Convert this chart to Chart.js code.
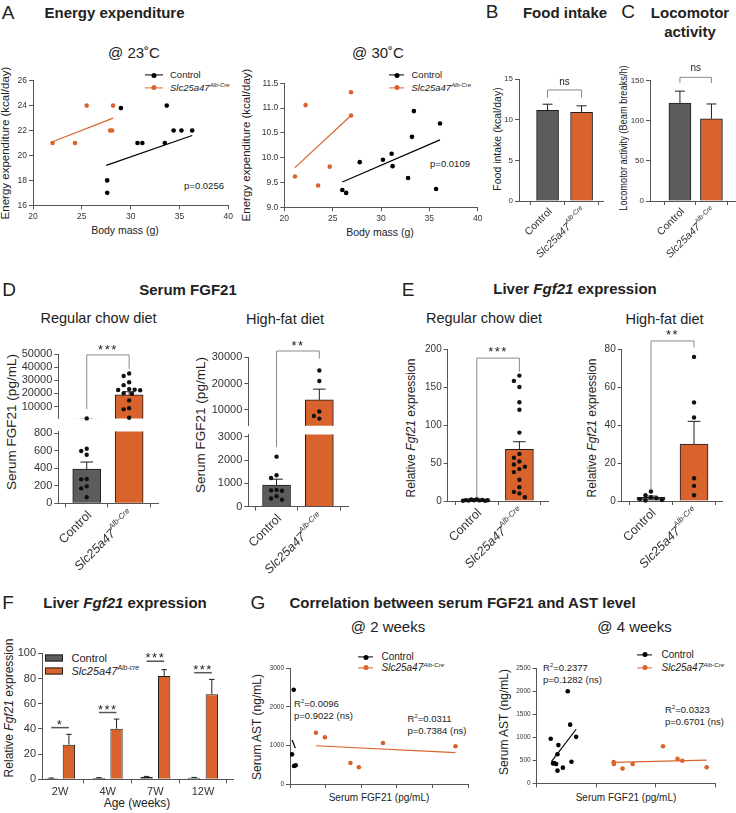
<!DOCTYPE html>
<html lang="en">
<head>
<meta charset="UTF-8">
<title>Slc25a47 liver knockout – FGF21 figure</title>
<script src="https://cdn.jsdelivr.net/npm/chart.js"></script>
<style>
  body { margin: 0; background: #fff; font-family: "Liberation Sans", Arial, sans-serif; color: #222; }
  #fig { position: relative; width: 736px; height: 813px; overflow: hidden; background: #fff; }
  #fig canvas { position: absolute; }
  .t  { position: absolute; white-space: nowrap; line-height: 1; transform: translate(-50%, -50%); }
  .l  { position: absolute; white-space: nowrap; line-height: 1; transform: translateY(-50%); }
  .yt { position: absolute; white-space: nowrap; line-height: 1; transform: translate(-50%, -50%) rotate(-90deg); }
  .yt.cond { transform: translate(-50%, -50%) rotate(-90deg) scaleX(0.88); }
  .letter { font-size: 19px; }
  .head { font-size: 15px; font-weight: bold; }
  .sub  { font-size: 15px; }
  .sub2 { font-size: 14.5px; }
  .ax   { font-size: 11.5px; }
  .ax2  { font-size: 10.5px; }
  .axs  { font-size: 10.5px; }
  .axl  { font-size: 13.5px; }
  .axm  { font-size: 12px; }
  .axg  { font-size: 10px; }
  .lg   { font-size: 9.5px; }
  .lgF  { font-size: 11px; }
  .lgG  { font-size: 10px; }
  .pv   { font-size: 9.5px; }
  sup { font-size: 62%; vertical-align: baseline; position: relative; top: -0.6em; line-height: 0; }
  .lm { position: absolute; height: 1.2px; transform: translateY(-50%); }
  .lm::after { content: ''; position: absolute; left: 50%; top: 50%; width: 5px; height: 5px;
               border-radius: 50%; background: inherit; transform: translate(-50%, -50%); }
  .box { position: absolute; width: 16px; height: 5px; border: 1px solid #222; transform: translateY(-50%); }
</style>
</head>
<body>
<div id="fig">
  <!-- A -->
  <div class="t letter" style="left:8px;top:11.5px">A</div>
  <div class="t head" style="left:114.5px;top:11.5px">Energy expenditure</div>
  <div class="t sub" style="left:134px;top:52px">@ 23˚C</div>
  <div class="t sub" style="left:378px;top:52px">@ 30˚C</div>
  <div class="yt ax" style="left:6px;top:143px">Energy expenditure (kcal/day)</div>
  <div class="yt ax" style="left:247px;top:145px">Energy expenditure (kcal/day)</div>
  <div class="t ax2" style="left:125px;top:230px">Body mass (g)</div>
  <div class="t ax2" style="left:380px;top:232px">Body mass (g)</div>
  <span class="lm" style="left:145px;top:75px;width:18px;background:#000"></span>
  <div class="l lg" style="left:170px;top:75px">Control</div>
  <span class="lm" style="left:145px;top:87.5px;width:18px;background:#d9632c"></span>
  <div class="l lg" style="left:170px;top:87.5px"><i>Slc25a47</i><sup><i>Alb-Cre</i></sup></div>
  <span class="lm" style="left:389px;top:75px;width:15px;background:#000"></span>
  <div class="l lg" style="left:411.5px;top:75px">Control</div>
  <span class="lm" style="left:389px;top:87.5px;width:15px;background:#d9632c"></span>
  <div class="l lg" style="left:411.5px;top:87.5px"><i>Slc25a47</i><sup><i>Alb-Cre</i></sup></div>
  <div class="t pv" style="left:204px;top:186px">p=0.0256</div>
  <div class="t pv" style="left:450px;top:164px">p=0.0109</div>

  <!-- B, C -->
  <div class="t letter" style="left:492px;top:11px">B</div>
  <div class="t head" style="left:565px;top:12px">Food intake</div>
  <div class="t letter" style="left:628px;top:11px">C</div>
  <div class="t head" style="left:690px;top:12px">Locomotor</div>
  <div class="t head" style="left:690px;top:31px">activity</div>
  <div class="yt axs" style="left:497px;top:139px">Food intake (kcal/day)</div>
  <div class="yt axs cond" style="left:622.5px;top:138px">Locomotor activity (Beam breaks/h)</div>

  <!-- D -->
  <div class="t letter" style="left:9px;top:289px">D</div>
  <div class="t head" style="left:188px;top:289px">Serum FGF21</div>
  <div class="t sub2" style="left:98.5px;top:318px">Regular chow diet</div>
  <div class="t sub2" style="left:285px;top:319px">High-fat diet</div>
  <div class="yt axl" style="left:12px;top:422px">Serum FGF21 (pg/mL)</div>
  <div class="yt axl" style="left:201px;top:425px">Serum FGF21 (pg/mL)</div>

  <!-- E -->
  <div class="t letter" style="left:408px;top:289px">E</div>
  <div class="t head" style="left:575px;top:288px">Liver <i>Fgf21</i> expression</div>
  <div class="t sub2" style="left:484px;top:318px">Regular chow diet</div>
  <div class="t sub2" style="left:664.5px;top:319px">High-fat diet</div>
  <div class="yt axm" style="left:410.5px;top:428px">Relative <i>Fgf21</i> expression</div>
  <div class="yt axm" style="left:592px;top:428px">Relative <i>Fgf21</i> expression</div>

  <!-- F -->
  <div class="t letter" style="left:8px;top:601.5px">F</div>
  <div class="t head" style="left:125px;top:601.5px">Liver <i>Fgf21</i> expression</div>
  <div class="yt axm" style="left:9px;top:708px">Relative <i>Fgf21</i> expression</div>
  <div class="t axm" style="left:137px;top:803px">Age (weeks)</div>
  <span class="box" style="left:45px;top:657.5px;background:#5c5c5c"></span>
  <div class="l lgF" style="left:71.5px;top:657.5px">Control</div>
  <span class="box" style="left:45px;top:670.5px;background:#d9632c"></span>
  <div class="l lgF" style="left:71.5px;top:670.5px"><i>Slc25a47</i><sup><i>Alb-cre</i></sup></div>

  <!-- G -->
  <div class="t letter" style="left:258px;top:601.5px">G</div>
  <div class="t head" style="left:462.5px;top:602px">Correlation between serum FGF21 and AST level</div>
  <div class="t sub" style="left:388px;top:626px">@ 2 weeks</div>
  <div class="t sub" style="left:634.5px;top:626px">@ 4 weeks</div>
  <div class="yt axm" style="left:257px;top:727px">Serum AST (ng/mL)</div>
  <div class="yt axm" style="left:504px;top:722px">Serum AST (ng/mL)</div>
  <div class="t axg" style="left:379px;top:798px">Serum FGF21 (pg/mL)</div>
  <div class="t axg" style="left:626px;top:798px">Serum FGF21 (pg/mL)</div>
  <span class="lm" style="left:358px;top:657px;width:15px;background:#000"></span>
  <div class="l lgG" style="left:381.5px;top:657px">Control</div>
  <span class="lm" style="left:358px;top:667.5px;width:15px;background:#d9632c"></span>
  <div class="l lgG" style="left:381.5px;top:667.5px"><i>Slc25a47</i><sup><i>Alb-Cre</i></sup></div>
  <span class="lm" style="left:637px;top:654.5px;width:15px;background:#000"></span>
  <div class="l lgG" style="left:661.5px;top:654.5px">Control</div>
  <span class="lm" style="left:637px;top:667.5px;width:15px;background:#d9632c"></span>
  <div class="l lgG" style="left:661.5px;top:667.5px"><i>Slc25a47</i><sup><i>Alb-Cre</i></sup></div>
  <div class="l pv" style="left:294px;top:704px">R<sup>2</sup>=0.0096</div>
  <div class="l pv" style="left:294px;top:716px">p=0.9022 (ns)</div>
  <div class="l pv" style="left:407.5px;top:718.5px">R<sup>2</sup>=0.0311</div>
  <div class="l pv" style="left:407.5px;top:730.5px">p=0.7384 (ns)</div>
  <div class="l pv" style="left:543px;top:668px">R<sup>2</sup>=0.2377</div>
  <div class="l pv" style="left:543px;top:680px">p=0.1282 (ns)</div>
  <div class="l pv" style="left:665px;top:710px">R<sup>2</sup>=0.0323</div>
  <div class="l pv" style="left:665px;top:722px">p=0.6701 (ns)</div>
</div>

<script>
  const ORANGE = '#d9632c';
  const GREY = '#5c5c5c';
  const AXIS = '#555';
  const INK = '#333';
  const FONT = '"Liberation Sans", Arial, sans-serif';

  // ---- A: energy expenditure vs body mass ----
  const massTicks = [20, 25, 30, 35, 40];
  const ee23Ticks = [16, 18, 20, 22, 24, 26];
  const ee30Ticks = [9.0, 9.5, 10.0, 10.5, 11.0, 11.5];
  const ctl23Mass = [27.6, 27.6, 29.0, 30.7, 31.2, 33.5, 33.7, 34.4, 35.2, 36.3];
  const ctl23EE = [18, 17, 23.8, 21, 21, 21, 24, 22, 22, 22];
  const ko23Mass = [22.0, 24.3, 25.5, 27.9, 28.1, 28.2];
  const ko23EE = [21, 21, 24, 22, 22, 24];
  const ctl23Fit = [[27.5, 19.2], [36.3, 21.6]];
  const ko23Fit = [[22.0, 21.1], [28.2, 23.0]];
  const ctl30Mass = [26.0, 26.4, 27.8, 30.2, 31.1, 31.2, 32.8, 33.2, 33.4, 35.7, 36.1];
  const ctl30EE = [9.35, 9.29, 9.91, 9.96, 10.08, 9.83, 9.59, 10.42, 10.94, 9.37, 10.69];
  const ko30Mass = [21.1, 22.2, 23.5, 24.7, 26.9, 26.9];
  const ko30EE = [9.62, 11.06, 9.44, 9.82, 11.32, 10.85];
  const ctl30Fit = [[26.0, 9.51], [36.1, 10.36]];
  const ko30Fit = [[21.1, 9.8], [26.9, 10.85]];

  // ---- B, C ----
  const groups = ['Control', 'Slc25a47 Alb-Cre'];
  const foodMean = [11.15, 10.9];
  const foodSem = [0.75, 0.8];
  const foodTicks = [0, 5, 10, 15];
  const locoMean = [122, 102.5];
  const locoSem = [15, 18.5];
  const locoTicks = [0, 50, 100, 150];

  // ---- D: serum FGF21 (broken axis) ----
  const fgfChowMean = [390, 19000];
  const fgfChowSem = [82, 2300];
  const fgfChowCtl = [1000, 624, 598, 555, 278, 274, 194, 171, 69];
  const fgfChowKo = [35200, 33300, 28500, 26300, 23300, 22900, 22600, 22400, 20200, 19700, 14700, 8800, 7900, 1500];
  const fgfChowTopTicks = [10000, 20000, 30000, 40000, 50000];
  const fgfChowLowTicks = [0, 200, 400, 600, 800];
  const fgfHfdMean = [930, 13800];
  const fgfHfdSem = [250, 4100];
  const fgfHfdCtl = [2150, 1350, 1230, 720, 700, 680, 450, 350, 300];
  const fgfHfdKo = [25000, 21000, 9400, 7700, 6700];
  const fgfHfdTopTicks = [10000, 20000, 30000];
  const fgfHfdLowTicks = [0, 1000, 2000, 3000];

  // ---- E: liver Fgf21 ----
  const liverChowMean = [1.1, 68];
  const liverChowSem = [0.25, 10];
  const liverChowCtl = [2.5, 2, 1.5, 1.2, 1, 1, 0.8, 0.6, 0.4, 0.3];
  const liverChowKo = [165, 158, 150, 130, 120, 90, 62, 57, 52, 48, 45, 42, 38, 28, 18, 12, 10, 5];
  const liverChowTicks = [0, 50, 100, 150, 200];
  const liverHfdMean = [1.9, 30];
  const liverHfdSem = [0.7, 12];
  const liverHfdCtl = [5, 3, 2, 1.5, 1, 0.5, 0.3];
  const liverHfdKo = [76, 52, 44, 12, 8, 3];
  const liverHfdTicks = [0, 20, 40, 60, 80];

  // ---- F: liver Fgf21 by age ----
  const weeks = ['2W', '4W', '7W', '12W'];
  const ageCtlMean = [0.8, 1.0, 1.8, 1.2];
  const ageCtlSem = [0.2, 0.3, 0.5, 0.3];
  const ageKoMean = [27.5, 40.2, 82, 67.5];
  const ageKoSem = [8.2, 7.6, 5, 11.8];
  const ageSigY = [41, 53, 93.7, 84.6];
  const ageSigText = ['*', '***', '***', '***'];
  const ageTicks = [0, 20, 40, 60, 80, 100];

  // ---- G: FGF21 vs AST ----
  const g2CtlFgf = [280, 520, 565, 800];
  const g2CtlAst = [769, 2443, 466, 484];
  const g2KoFgf = [3630, 4900, 8470, 9650, 13040, 23200];
  const g2KoAst = [1329, 1210, 544, 433, 1062, 977];
  const g2CtlFit = [[300, 1140], [750, 925]];
  const g2KoFit = [[3630, 992], [23200, 811]];
  const g2FgfTicks = [0, 5000, 10000, 15000, 20000, 25000];
  const g2AstTicks = [0, 1000, 2000, 3000];
  const g4CtlFgf = [4720, 10450, 7300, 11250, 13270, 6990, 5500, 5870, 6540, 7000, 8800, 11700];
  const g4CtlAst = [970, 2000, 830, 1275, 1010, 630, 430, 440, 420, 275, 340, 470];
  const g4KoFgf = [25900, 26000, 28900, 32300, 42500, 47400, 49000, 57200];
  const g4KoAst = [460, 420, 320, 420, 805, 530, 490, 350];
  const g4CtlFit = [[4940, 470], [13270, 1175]];
  const g4KoFit = [[25900, 455], [57200, 505]];
  const g4FgfTicks = [0, 20000, 40000, 60000];
  const g4AstTicks = [0, 500, 1000, 1500, 2000, 2500];

  const groupLabels = [
    [{ t: 'Control' }],
    [{ t: 'Slc25a47', it: true }, { t: 'Alb-Cre', it: true, sup: true }]
  ];

  Chart.defaults.font.family = FONT;
  Chart.defaults.color = INK;

  const fig = document.getElementById('fig');

  // spread dots sideways (pixel space); stay within +-maxOff, overlap when crowded
  function swarm(ys, gap, maxOff) {
    const placed = [];
    const cands = [0];
    for (let s = gap / 2; s <= maxOff; s += gap / 2) cands.push(-s, s);
    const order = cands.filter((c, i) => i === 0 || Math.abs(c) % gap < 0.01).concat(cands.filter(c => Math.abs(c) % gap >= 0.01));
    return ys.map(y => {
      let best = 0, bestD = -1;
      for (const off of order) {
        const d = placed.reduce((m, p) => Math.min(m, Math.hypot(p[0] - off, p[1] - y)), Infinity);
        if (d >= gap) { best = off; bestD = d; break; }
        if (d > bestD) { best = off; bestD = d; }
      }
      placed.push([best, y]);
      return best;
    });
  }

  function drawRich(ctx, parts, size) {
    const fontOf = p => (p.it ? 'italic ' : '') + (p.sup ? size * 0.62 : size) + 'px ' + FONT;
    let w = 0;
    parts.forEach(p => { ctx.font = fontOf(p); w += ctx.measureText(p.t).width; });
    let cx = -w;
    parts.forEach(p => {
      ctx.font = fontOf(p);
      ctx.fillText(p.t, cx, p.sup ? -size * 0.42 : 0);
      cx += ctx.measureText(p.t).width;
    });
  }

  // error bars, dot clouds, brackets, significance lines, rotated group labels
  const extras = {
    id: 'extras',
    afterDraw(chart) {
      const o = chart.config.options.plugins.extras || {};
      const ctx = chart.ctx, a = chart.chartArea;
      const xs = chart.scales.x, ys = chart.scales.y;
      ctx.save();

      chart.data.datasets.forEach((ds, di) => {
        const meta = chart.getDatasetMeta(di);
        if (ds.sem) {
          ctx.save();
          ctx.beginPath();
          ctx.rect(a.left, a.top, a.right - a.left, a.bottom - a.top);
          ctx.clip();
          ctx.strokeStyle = '#1e1e1e';
          ctx.lineWidth = 1;
          meta.data.forEach((el, i) => {
            const yt = ys.getPixelForValue(ds.data[i].y + ds.sem[i]);
            const cw = el.width * 0.45;
            ctx.beginPath();
            ctx.moveTo(el.x, el.y);
            ctx.lineTo(el.x, yt);
            ctx.moveTo(el.x - cw / 2, yt);
            ctx.lineTo(el.x + cw / 2, yt);
            ctx.stroke();
          });
          ctx.restore();
        }
        if (ds.dots) {
          ctx.save();
          ctx.beginPath();
          ctx.rect(a.left, a.top - 3, a.right - a.left, a.bottom - a.top + 6);
          ctx.clip();
          ctx.fillStyle = '#111';
          meta.data.forEach((el, i) => {
            const vals = ds.dots[i].filter(v => v >= ys.min && v <= ys.max);
            const py = vals.map(v => ys.getPixelForValue(v));
            const off = swarm(py, 5.5, el.width * 0.5);
            py.forEach((y, k) => {
              ctx.beginPath();
              ctx.arc(el.x + off[k], y, 2.2, 0, Math.PI * 2);
              ctx.fill();
            });
          });
          ctx.restore();
        }
      });

      ctx.strokeStyle = '#8a8a8a';
      ctx.lineWidth = 1;
      (o.brackets || []).forEach(b => {
        const x1 = xs.getPixelForValue(b.x1), x2 = xs.getPixelForValue(b.x2);
        const y = ys.getPixelForValue(b.y);
        ctx.beginPath();
        ctx.moveTo(x1, ys.getPixelForValue(b.y1));
        ctx.lineTo(x1, y);
        ctx.lineTo(x2, y);
        ctx.lineTo(x2, ys.getPixelForValue(b.y2));
        ctx.stroke();
        ctx.fillStyle = '#222';
        ctx.font = b.size + 'px ' + FONT;
        ctx.textAlign = 'center';
        ctx.textBaseline = 'alphabetic';
        ctx.letterSpacing = b.ls || '0px';
        ctx.fillText(b.text, (x1 + x2) / 2, y + b.ty);
        ctx.letterSpacing = '0px';
      });
      (o.vlines || []).forEach(v => {
        const x = xs.getPixelForValue(v.x);
        ctx.beginPath();
        ctx.moveTo(x, ys.getPixelForValue(v.y1));
        ctx.lineTo(x, ys.getPixelForValue(v.y2));
        ctx.stroke();
      });

      (o.sig || []).forEach(s => {
        const e0 = chart.getDatasetMeta(0).data[s.x], e1 = chart.getDatasetMeta(1).data[s.x];
        const y = ys.getPixelForValue(s.y);
        ctx.strokeStyle = '#555';
        ctx.lineWidth = 1.5;
        ctx.beginPath();
        ctx.moveTo(e0.x, y);
        ctx.lineTo(e1.x, y);
        ctx.stroke();
        ctx.fillStyle = '#222';
        ctx.font = '13px ' + FONT;
        ctx.textAlign = 'center';
        ctx.textBaseline = 'alphabetic';
        ctx.letterSpacing = '1.5px';
        ctx.fillText(s.text, (e0.x + e1.x) / 2, y + 1);
        ctx.letterSpacing = '0px';
      });

      if (o.cats) {
        ctx.fillStyle = INK;
        ctx.textAlign = 'left';
        ctx.textBaseline = 'middle';
        o.cats.labels.forEach((parts, i) => {
          ctx.save();
          ctx.translate(xs.getPixelForValue(i) + 3, a.bottom + o.cats.dy);
          ctx.rotate(-Math.PI / 4);
          drawRich(ctx, parts, o.cats.size);
          ctx.restore();
        });
      }
      ctx.restore();
    }
  };

  // place a chart so that its plot area lands on area = [left, top, right, bottom]
  function chartAt(area, m, config) {
    const [x0, y0, x1, y1] = area;
    const left = Math.floor(x0 - m.l), top = Math.floor(y0 - m.t);
    const right = Math.ceil(x1 + m.r), bottom = Math.ceil(y1 + m.b);
    const w = right - left, h = bottom - top;
    const c = document.createElement('canvas');
    c.width = w;
    c.height = h;
    Object.assign(c.style, { left: left + 'px', top: top + 'px', width: w + 'px', height: h + 'px' });
    fig.appendChild(c);
    const o = config.options;
    o.responsive = false;
    o.maintainAspectRatio = false;
    o.animation = false;
    o.devicePixelRatio = 1;
    o.layout = { padding: { left: 0, top: y0 - top, right: right - x1, bottom: 0 } };
    o.scales.y.afterFit = s => { s.width = x0 - left; };
    o.scales.x.afterFit = s => { s.height = bottom - y1; };
    o.plugins = Object.assign({ legend: { display: false }, tooltip: { enabled: false } }, o.plugins);
    config.plugins = [extras];
    return new Chart(c, config);
  }

  function yAxis(min, max, ticks, size, fmt) {
    return {
      type: 'linear', min, max,
      afterBuildTicks: s => { s.ticks = ticks.map(v => ({ value: v })); },
      grid: { drawOnChartArea: false, drawTicks: true, tickLength: 4, color: AXIS, lineWidth: 1 },
      border: { display: true, color: AXIS, width: 1 },
      ticks: { color: INK, padding: 2, autoSkip: false, font: { size, family: FONT }, callback: fmt || (v => String(v)) }
    };
  }

  function xAxis(min, max, ticks, size, showLabels, fmt) {
    return {
      type: 'linear', position: 'bottom', offset: false, min, max,
      afterBuildTicks: s => { s.ticks = ticks.map(v => ({ value: v })); },
      grid: { drawOnChartArea: false, drawTicks: true, tickLength: 4, color: AXIS, lineWidth: 1 },
      border: { display: true, color: AXIS, width: 1 },
      ticks: { display: showLabels, color: INK, padding: 2, autoSkip: false, maxRotation: 0,
               font: { size, family: FONT }, callback: fmt || (v => String(v)) }
    };
  }

  function catAxis(min, max, cats, showLabels, size) {
    return xAxis(min, max, cats.map((c, i) => i), size || 11, showLabels, v => cats[v]);
  }

  function hiddenAxis(min, max) {
    return {
      type: 'linear', position: 'bottom', offset: false, min, max,
      grid: { display: false }, border: { display: false }, ticks: { display: false }
    };
  }

  function barSet(means, sems, dots, thick) {
    return {
      data: means.map((y, x) => ({ x, y })),
      backgroundColor: [GREY, ORANGE],
      borderColor: '#1e1e1e',
      borderWidth: 1,
      barThickness: thick,
      clip: 0,
      sem: sems,
      dots: dots
    };
  }

  function pts(xv, yv, color) {
    return {
      type: 'scatter',
      data: xv.map((x, i) => ({ x, y: yv[i] })),
      pointRadius: 2.3, pointBackgroundColor: color, pointBorderWidth: 0, borderColor: color
    };
  }

  function fit(line, color) {
    return {
      type: 'line',
      data: line.map(([x, y]) => ({ x, y })),
      borderColor: color, borderWidth: 1.2, pointRadius: 0, fill: false, tension: 0
    };
  }

  // A
  chartAt([33, 80.7, 228.3, 205.3], { l: 24, r: 10, t: 8, b: 16 }, {
    type: 'scatter',
    data: { datasets: [pts(ko23Mass, ko23EE, ORANGE), pts(ctl23Mass, ctl23EE, '#000'),
                       fit(ko23Fit, ORANGE), fit(ctl23Fit, '#000')] },
    options: { scales: { x: xAxis(20, 40, massTicks, 8.5, true), y: yAxis(16, 26, ee23Ticks, 8.5) } }
  });
  chartAt([284.3, 83.3, 477.7, 207.3], { l: 24, r: 10, t: 8, b: 16 }, {
    type: 'scatter',
    data: { datasets: [pts(ko30Mass, ko30EE, ORANGE), pts(ctl30Mass, ctl30EE, '#000'),
                       fit(ko30Fit, ORANGE), fit(ctl30Fit, '#000')] },
    options: { scales: { x: xAxis(20, 40, massTicks, 8.5, true), y: yAxis(9, 11.5, ee30Ticks, 8.5, v => v.toFixed(1)) } }
  });

  // B
  chartAt([519, 79, 603, 201], { l: 22, r: 6, t: 16, b: 70 }, {
    type: 'bar',
    data: { datasets: [barSet(foodMean, foodSem, null, 22)] },
    options: {
      scales: { x: catAxis(-0.84, 1.63, groups, false), y: yAxis(0, 15, foodTicks, 8) },
      plugins: { extras: {
        cats: { labels: groupLabels, size: 10.5, dy: 9 },
        brackets: [{ x1: 0, x2: 1, y: 13.65, y1: 12.7, y2: 12.7, text: 'ns', size: 10, ty: -5 }]
      } }
    }
  });

  // C
  chartAt([650, 80.7, 736, 201], { l: 22, r: 6, t: 18, b: 70 }, {
    type: 'bar',
    data: { datasets: [barSet(locoMean, locoSem, null, 22)] },
    options: {
      scales: { x: catAxis(-0.95, 1.78, groups, false), y: yAxis(0, 150, locoTicks, 8) },
      plugins: { extras: {
        cats: { labels: groupLabels, size: 10.5, dy: 9 },
        brackets: [{ x1: 0, x2: 1, y: 154.2, y1: 147, y2: 147, text: 'ns', size: 10, ty: -6 }]
      } }
    }
  });

  // D — regular chow, upper and lower segments
  chartAt([58.3, 354, 158, 422.7], { l: 40, r: 6, t: 14, b: 4 }, {
    type: 'bar',
    data: { datasets: [barSet(fgfChowMean, fgfChowSem, [fgfChowCtl, fgfChowKo], 28)] },
    options: {
      scales: { x: hiddenAxis(-0.67, 1.68), y: yAxis(1000, 50000, fgfChowTopTicks, 11) },
      plugins: { extras: {
        brackets: [{ x1: 0, x2: 1, y: 49300, y1: 7930, y2: 38600, text: '***', size: 13, ty: -1, ls: '1.5px' }]
      } }
    }
  });
  chartAt([58.3, 431.5, 158, 503.3], { l: 40, r: 6, t: 8, b: 70 }, {
    type: 'bar',
    data: { datasets: [barSet(fgfChowMean, fgfChowSem, [fgfChowCtl, fgfChowKo], 28)] },
    options: {
      scales: { x: catAxis(-0.67, 1.68, groups, false), y: yAxis(0, 820, fgfChowLowTicks, 11) },
      plugins: { extras: { cats: { labels: groupLabels, size: 12.5, dy: 10 } } }
    }
  });

  // D — high-fat diet
  chartAt([248.3, 357.3, 348, 425.7], { l: 40, r: 6, t: 20, b: 12 }, {
    type: 'bar',
    data: { datasets: [barSet(fgfHfdMean, fgfHfdSem, [fgfHfdCtl, fgfHfdKo], 28)] },
    options: {
      scales: { x: hiddenAxis(-0.66, 1.67), y: yAxis(4000, 30000, fgfHfdTopTicks, 11) },
      plugins: { extras: {
        brackets: [{ x1: 0, x2: 1, y: 32400, y1: 700, y2: 29500, text: '**', size: 13, ty: -1, ls: '1.5px' }]
      } }
    }
  });
  chartAt([248.3, 434.4, 348, 506.6], { l: 40, r: 6, t: 8, b: 70 }, {
    type: 'bar',
    data: { datasets: [barSet(fgfHfdMean, fgfHfdSem, [fgfHfdCtl, fgfHfdKo], 28)] },
    options: {
      scales: { x: catAxis(-0.66, 1.67, groups, false), y: yAxis(0, 3100, fgfHfdLowTicks, 11) },
      plugins: { extras: {
        cats: { labels: groupLabels, size: 12.5, dy: 10 },
        vlines: [{ x: 0, y1: 3100, y2: 2570 }]
      } }
    }
  });

  // E
  chartAt([447.7, 349, 548, 501], { l: 30, r: 6, t: 14, b: 70 }, {
    type: 'bar',
    data: { datasets: [barSet(liverChowMean, liverChowSem, [liverChowCtl, liverChowKo], 28)] },
    options: {
      scales: { x: catAxis(-0.68, 1.67, groups, false), y: yAxis(0, 200, liverChowTicks, 10) },
      plugins: { extras: {
        cats: { labels: groupLabels, size: 12.5, dy: 10 },
        brackets: [{ x1: 0, x2: 1, y: 188, y1: 5, y2: 170, text: '***', size: 13, ty: -2, ls: '1.5px' }]
      } }
    }
  });
  chartAt([621.7, 349.3, 722, 501], { l: 24, r: 10, t: 22, b: 70 }, {
    type: 'bar',
    data: { datasets: [barSet(liverHfdMean, liverHfdSem, [liverHfdCtl, liverHfdKo], 28)] },
    options: {
      scales: { x: catAxis(-0.68, 1.65, groups, false), y: yAxis(0, 80, liverHfdTicks, 10) },
      plugins: { extras: {
        cats: { labels: groupLabels, size: 12.5, dy: 10 },
        brackets: [{ x1: 0, x2: 1, y: 84.4, y1: 5.8, y2: 81, text: '**', size: 13, ty: -2, ls: '1.5px' }]
      } }
    }
  });

  // F
  chartAt([42, 653.3, 233, 779.3], { l: 28, r: 6, t: 10, b: 20 }, {
    type: 'bar',
    data: { datasets: [
      { data: ageCtlMean.map((y, x) => ({ x, y })), backgroundColor: GREY, borderColor: '#1e1e1e', borderWidth: 1,
        categoryPercentage: 0.74, barPercentage: 0.7, clip: 0, sem: ageCtlSem },
      { data: ageKoMean.map((y, x) => ({ x, y })), backgroundColor: ORANGE, borderColor: '#1e1e1e', borderWidth: 1,
        categoryPercentage: 0.74, barPercentage: 0.7, clip: 0, sem: ageKoSem }
    ] },
    options: {
      scales: { x: catAxis(-0.38, 3.63, weeks, true, 11), y: yAxis(0, 100, ageTicks, 11) },
      plugins: { extras: { sig: ageSigY.map((y, x) => ({ x, y, text: ageSigText[x] })) } }
    }
  });

  // G
  chartAt([290, 668.3, 468.3, 784], { l: 30, r: 8, t: 8, b: 8 }, {
    type: 'scatter',
    data: { datasets: [pts(g2KoFgf, g2KoAst, ORANGE), pts(g2CtlFgf, g2CtlAst, '#000'),
                       fit(g2KoFit, ORANGE), fit(g2CtlFit, '#000')] },
    options: { scales: { x: xAxis(0, 25000, g2FgfTicks, 6.5, false), y: yAxis(0, 3000, g2AstTicks, 6.5) } }
  });
  chartAt([536.7, 668.3, 715, 783.3], { l: 30, r: 8, t: 8, b: 8 }, {
    type: 'scatter',
    data: { datasets: [pts(g4KoFgf, g4KoAst, ORANGE), pts(g4CtlFgf, g4CtlAst, '#000'),
                       fit(g4KoFit, ORANGE), fit(g4CtlFit, '#000')] },
    options: { scales: { x: xAxis(0, 60000, g4FgfTicks, 6.5, false), y: yAxis(0, 2500, g4AstTicks, 6.5) } }
  });
</script>
</body>
</html>
